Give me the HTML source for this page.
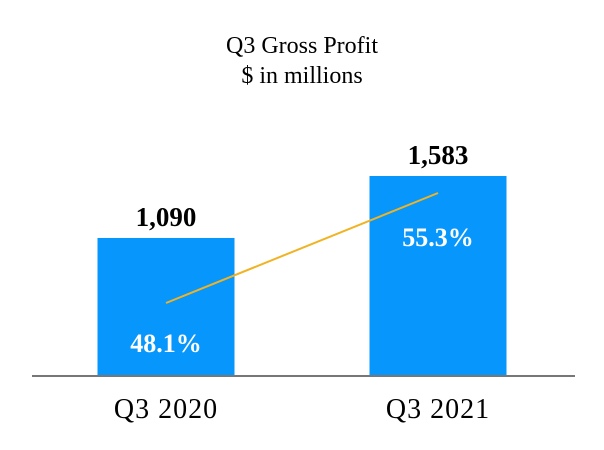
<!DOCTYPE html>
<html><head><meta charset="utf-8"><style>
body{margin:0;background:#fff;}
svg{display:block;font-family:"Liberation Serif",serif;}
</style></head><body>
<svg id="chart" width="604" height="450">
<text x="302" y="53" text-anchor="middle" font-size="24">Q3 Gross Profit</text>
<text x="302" y="83" text-anchor="middle" font-size="24">$ in millions</text>
<g id="bars"></g>
<line x1="32" y1="376" x2="575" y2="376" stroke="#777" stroke-width="2"/>
</svg>
<script>
const categories=["Q3 2020","Q3 2021"];
const profitValues=[1090,1583];
const profitLabels=["1,090","1,583"];
const marginValues=[48.1,55.3];
const marginLabels=["48.1%","55.3%"];
const ns="http://www.w3.org/2000/svg";
const g=document.getElementById('bars');
const base=375, pxPer=199/1583;
const yBar=v=>base-v*pxPer;
const xCenter=i=>166+i*272;
const barW=137;
const yLine=p=>303-(p-48.1)*(110/7.2);
function mk(tag,attrs){const e=document.createElementNS(ns,tag);for(const k in attrs)e.setAttribute(k,attrs[k]);g.appendChild(e);return e;}
categories.forEach((c,i)=>{
  const cx=xCenter(i),top=yBar(profitValues[i]);
  const r=mk('rect',{x:cx-barW/2,y:top,width:barW,height:base-top,fill:'#0796FB'});
  
  
  const t=mk('text',{x:cx,y:top-12,'text-anchor':'middle','font-size':'27','font-weight':'bold'});
  t.textContent=profitLabels[i];
  
  
  const cl=mk('text',{x:cx,y:418,'text-anchor':'middle','font-size':'28','letter-spacing':'1'});
  cl.textContent=c;
  
  
});
const pts=marginValues.map((p,i)=>xCenter(i)+','+yLine(p)).join(' ');
const pl=mk('polyline',{points:pts,fill:'none',stroke:'#F0B323','stroke-width':'2'});


marginValues.forEach((p,i)=>{
  const t=mk('text',{x:xCenter(i),y:i==0?yLine(p)+49:yLine(p)+53,'text-anchor':'middle','font-size':'26','font-weight':'bold',fill:'#fff'});
  t.textContent=marginLabels[i];
  
  
});
</script>
</body></html>
